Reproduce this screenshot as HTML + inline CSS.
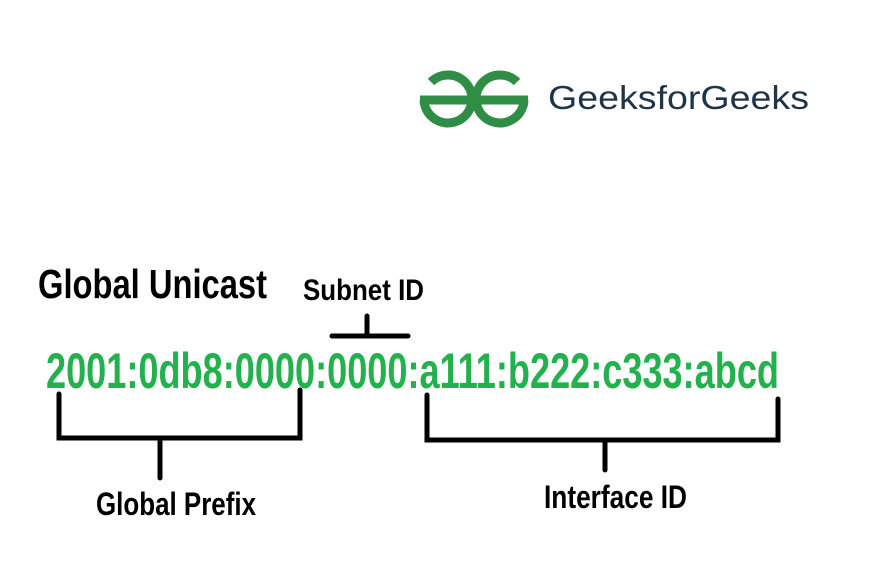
<!DOCTYPE html>
<html><head><meta charset="utf-8"><style>
html,body{margin:0;padding:0;background:#fff;}
svg{display:block;}
</style></head><body>
<svg width="892" height="563" viewBox="0 0 892 563" xmlns="http://www.w3.org/2000/svg">
<rect width="892" height="563" fill="#fff"/>
<!-- logo -->
<g fill="none" stroke="#2f8d46" stroke-width="9">
  <path d="M424 100 A24 24 0 1 0 431 82"/>
  <path d="M524 100 A24 24 0 1 1 517 82"/>
  <line x1="420" y1="100" x2="528" y2="100"/>
</g>
<text x="548" y="109" font-family="Liberation Sans, sans-serif" font-size="33" fill="#1f3447" textLength="261" lengthAdjust="spacingAndGlyphs">GeeksforGeeks</text>
<!-- labels -->
<g font-family="Liberation Sans, sans-serif" font-weight="bold" fill="#000">
  <text x="38" y="298" font-size="41" textLength="229" lengthAdjust="spacingAndGlyphs">Global Unicast</text>
  <text x="303" y="300" font-size="30" textLength="121" lengthAdjust="spacingAndGlyphs">Subnet ID</text>
  <text x="96" y="515" font-size="32" textLength="160" lengthAdjust="spacingAndGlyphs">Global Prefix</text>
  <text x="544" y="508" font-size="32" textLength="143" lengthAdjust="spacingAndGlyphs">Interface ID</text>
</g>
<text x="46" y="388" font-family="Liberation Sans, sans-serif" font-weight="bold" font-size="50" fill="#22b14c" textLength="733" lengthAdjust="spacingAndGlyphs">2001:0db8:0000:0000:a111:b222:c333:abcd</text>
<!-- brackets -->
<g stroke="#000" stroke-width="5" fill="none" stroke-linecap="round">
  <path d="M59 394 V438 H300 V390"/>
  <line x1="160" y1="438" x2="160" y2="478"/>
  <line x1="332" y1="336" x2="408" y2="336"/>
  <line x1="367" y1="316" x2="367" y2="336"/>
  <path d="M427 395 V440 H778 V399"/>
  <line x1="605" y1="440" x2="605" y2="470"/>
</g>
</svg>
</body></html>
